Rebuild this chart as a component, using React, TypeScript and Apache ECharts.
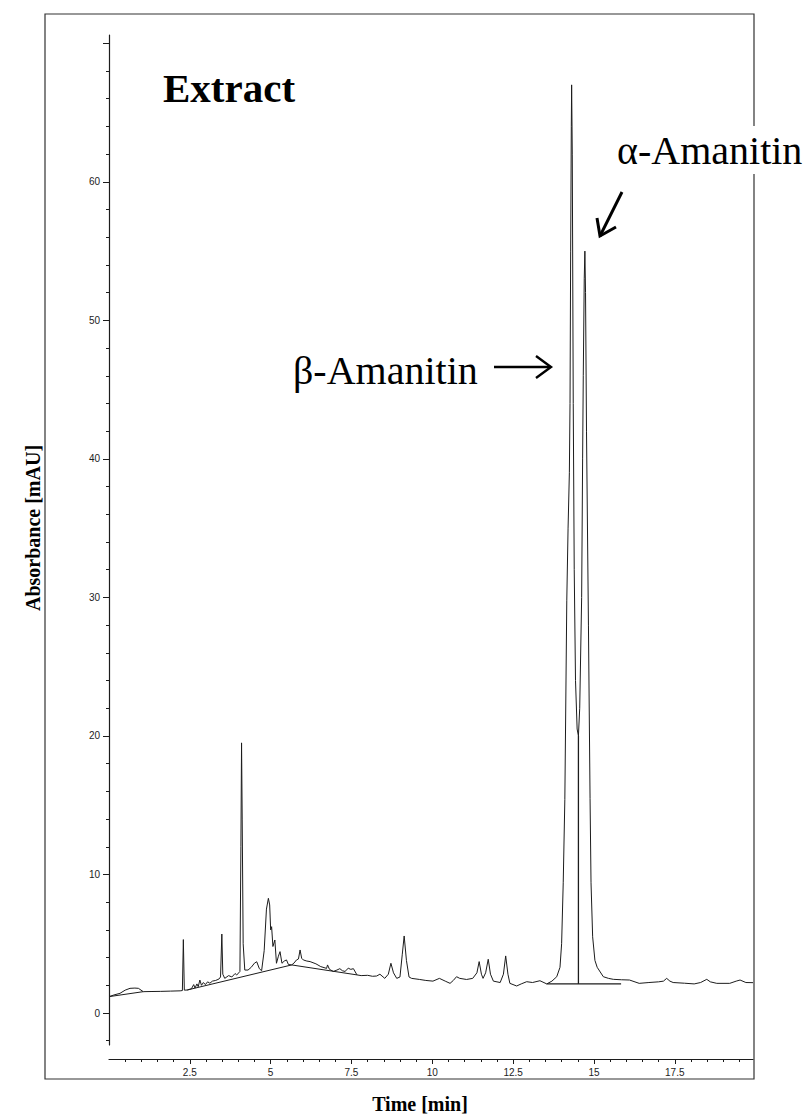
import React, { useEffect, useRef } from "react";
import * as echarts from "echarts";

// Chromatogram signal (time in min, absorbance in mAU)
const TIME = [
  0.0, 0.15, 0.34, 0.5, 0.65, 0.8, 0.91, 1.06, 1.3, 1.6, 1.9, 2.2, 2.27, 2.3, 2.33, 2.42,
  2.55, 2.62, 2.66, 2.72, 2.76, 2.81, 2.86, 2.92, 2.98, 3.05, 3.12, 3.2, 3.3, 3.4, 3.45,
  3.49, 3.52, 3.58, 3.7, 3.8, 3.9, 3.95, 4.05, 4.08, 4.1, 4.12, 4.15, 4.2, 4.3, 4.4, 4.5,
  4.57, 4.65, 4.72, 4.8, 4.87, 4.93, 4.97, 5.0, 5.03, 5.07, 5.13, 5.18, 5.24, 5.29, 5.35,
  5.42, 5.49, 5.55, 5.65, 5.72, 5.8, 5.86, 5.91, 5.96, 6.01, 6.12, 6.22, 6.4, 6.55, 6.73,
  6.76, 6.82, 6.94, 7.05, 7.14, 7.22, 7.3, 7.4, 7.48, 7.56, 7.67, 7.8, 8.0, 8.15, 8.28,
  8.38, 8.53, 8.64, 8.72, 8.8, 8.9, 9.0, 9.07, 9.13, 9.2, 9.28, 9.36, 9.61, 9.8, 10.02,
  10.22, 10.4, 10.55, 10.65, 10.75, 10.85, 11.06, 11.25, 11.38, 11.45, 11.52, 11.57,
  11.65, 11.73, 11.8, 11.89, 12.1, 12.2, 12.27, 12.34, 12.4, 12.61, 12.75, 12.92, 13.1,
  13.33, 13.54, 13.7, 13.85, 13.95, 14.0, 14.05, 14.1, 14.16, 14.2, 14.24, 14.26, 14.28,
  14.3, 14.31, 14.33, 14.36, 14.39, 14.43, 14.48, 14.52, 14.56, 14.62, 14.65, 14.67,
  14.7, 14.72, 14.74, 14.77, 14.83, 14.88, 14.91, 14.96, 15.03, 15.1, 15.29, 15.45, 15.6,
  15.85, 16.1, 16.4, 16.7, 17.0, 17.15, 17.25, 17.35, 17.45, 17.8, 18.1, 18.3, 18.49,
  18.6, 18.8, 19.2, 19.4, 19.52, 19.7, 19.92,
];
const ABSORBANCE = [
  1.18, 1.3, 1.42, 1.65, 1.78, 1.8, 1.78, 1.54, 1.55, 1.56, 1.58, 1.6, 1.62, 5.3, 1.65, 1.66,
  1.75, 2.05, 1.8, 2.1, 1.9, 2.38, 2.0, 2.2, 2.05, 2.25, 2.15, 2.3, 2.35, 2.45, 2.6,
  5.7, 2.8, 2.5, 2.7, 2.6, 2.85, 2.74, 3.0, 12.0, 19.5, 14.0, 5.0, 3.1, 3.1, 3.3, 3.6,
  3.7, 3.2, 3.05, 4.5, 7.5, 8.28, 7.8, 6.0, 6.23, 4.8, 5.27, 3.59, 4.1, 4.43, 3.59,
  3.75, 3.83, 3.5, 3.47, 3.6, 3.83, 3.9, 4.55, 3.95, 3.83, 3.75, 3.71, 3.55, 3.35, 3.22,
  3.47, 3.15, 3.0, 3.1, 3.2, 3.05, 3.0, 3.23, 3.15, 3.2, 2.75, 2.7, 2.72, 2.65, 2.67,
  2.8, 2.5, 2.8, 3.59, 2.9, 2.5, 2.6, 4.2, 5.56, 3.8, 2.6, 2.5, 2.42, 2.35, 2.3,
  2.5, 2.3, 2.14, 2.35, 2.62, 2.5, 2.42, 2.5, 2.9, 3.71, 2.8, 2.5,
  2.9, 3.88, 2.8, 2.3, 2.2, 2.8, 4.12, 2.8, 2.14, 1.95, 2.1, 2.26, 2.2,
  2.33, 2.1, 2.3, 2.62, 3.3, 5.0, 9.4, 15.4, 29.8, 35.0, 39.0, 44.0, 55.0,
  64.0, 67.0, 62.0, 44.0, 32.0, 24.0, 20.5, 20.0, 22.0, 30.0, 40.0, 46.0,
  53.0, 55.0, 52.0, 42.0, 28.0, 15.5, 9.4, 5.5, 3.8, 3.3, 2.62, 2.5, 2.43,
  2.4, 2.38, 2.14, 2.2, 2.25, 2.3, 2.5, 2.3, 2.2, 2.15, 2.1, 2.2, 2.43,
  2.25, 2.14, 2.14, 2.3, 2.38, 2.2, 2.19,
];

// Integrator baselines and the drop line between the two amanitin peaks
const BASELINE_1 = [[0.0, 1.18], [1.06, 1.54]];
const BASELINE_2 = [[2.42, 1.66], [5.65, 3.47]];
const BASELINE_3 = [[5.65, 3.47], [7.67, 2.75]];
const BASELINE_4 = [[13.54, 2.1], [15.84, 2.1]];
const DROP_LINE = [[14.52, 2.1], [14.52, 20.0]];

// Axis ticks and labels
const X_LABELS = [2.5, 5, 7.5, 10, 12.5, 15, 17.5];
const X_MINOR_TICKS = [
  0.5, 1, 1.5, 2, 2.5, 3, 3.5, 4, 4.5, 5, 5.5, 6, 6.5, 7, 7.5, 8, 8.5, 9, 9.5, 10,
  10.5, 11, 11.5, 12, 12.5, 13, 13.5, 14, 14.5, 15, 15.5, 16, 16.5, 17, 17.5, 18, 18.5,
  19, 19.5,
];
const Y_LABELS = [0, 10, 20, 30, 40, 50, 60];
const Y_MAJOR_TICKS = [0, 10, 20, 30, 40, 50, 60, 70];
const Y_MINOR_TICKS = [
  -2, 0, 2, 4, 6, 8, 10, 12, 14, 16, 18, 20, 22, 24, 26, 28, 30, 32, 34, 36, 38, 40,
  42, 44, 46, 48, 50, 52, 54, 56, 58, 60, 62, 64, 66, 68, 70,
];

const X_MIN = 0;
const X_MAX = 19.92;
const Y_MIN = -2.31;
const Y_MAX = 70.6;

const INK = "#1c1c1c";
const SERIF = '"Liberation Serif", "Times New Roman", serif';
const SANS = '"Liberation Sans", Arial, sans-serif';

export default function App() {
  const ref = useRef<HTMLDivElement>(null);

  useEffect(() => {
    if (!ref.current) return;
    const chart = echarts.init(ref.current, null, { renderer: "svg" });

    const lineSeries = (data: number[][], width: number) => ({
      type: "line",
      xAxisIndex: 0,
      yAxisIndex: 0,
      data,
      showSymbol: false,
      symbol: "none",
      silent: true,
      lineStyle: { color: INK, width },
    });

    const signal = TIME.map((t, i) => [t, ABSORBANCE[i]]);

    const option: any = {
      animation: false,
      backgroundColor: "#ffffff",
      grid: { left: 109, top: 35, width: 644, height: 1010, containLabel: false },
      xAxis: [
        {
          type: "value",
          min: X_MIN,
          max: X_MAX,
          position: "bottom",
          offset: 14,
          axisLine: { show: true, onZero: false, lineStyle: { color: INK, width: 1.2 } },
          axisTick: {
            show: true,
            customValues: X_LABELS,
            length: 5,
            lineStyle: { color: INK, width: 1 },
          },
          axisLabel: {
            show: true,
            customValues: X_LABELS,
            formatter: (v: number) => String(v),
            color: INK,
            fontSize: 10,
            fontFamily: SANS,
            margin: 8,
          },
          splitLine: { show: false },
        },
        {
          type: "value",
          min: X_MIN,
          max: X_MAX,
          position: "bottom",
          offset: 14,
          axisLine: { show: false, onZero: false },
          axisTick: {
            show: true,
            customValues: X_MINOR_TICKS,
            length: 3,
            lineStyle: { color: INK, width: 1 },
          },
          axisLabel: { show: false },
          splitLine: { show: false },
        },
      ],
      yAxis: [
        {
          type: "value",
          min: Y_MIN,
          max: Y_MAX,
          position: "left",
          axisLine: { show: true, onZero: false, lineStyle: { color: INK, width: 1.2 } },
          axisTick: {
            show: true,
            customValues: Y_MAJOR_TICKS,
            length: 6,
            lineStyle: { color: INK, width: 1 },
          },
          axisLabel: {
            show: true,
            customValues: Y_LABELS,
            formatter: (v: number) => String(v),
            color: INK,
            fontSize: 10,
            fontFamily: SANS,
            margin: 9,
          },
          splitLine: { show: false },
        },
        {
          type: "value",
          min: Y_MIN,
          max: Y_MAX,
          position: "left",
          axisLine: { show: false, onZero: false },
          axisTick: {
            show: true,
            customValues: Y_MINOR_TICKS,
            length: 3,
            lineStyle: { color: INK, width: 1 },
          },
          axisLabel: { show: false },
          splitLine: { show: false },
        },
      ],
      series: [
        lineSeries(signal, 1),
        lineSeries(BASELINE_1, 1),
        lineSeries(BASELINE_2, 1),
        lineSeries(BASELINE_3, 1),
        lineSeries(BASELINE_4, 1.3),
        lineSeries(DROP_LINE, 1.3),
      ],
      graphic: [
        {
          type: "rect",
          silent: true,
          z: 0,
          shape: { x: 45, y: 14, width: 709, height: 1065 },
          style: { fill: "none", stroke: "#333", lineWidth: 1.2 },
        },
        {
          type: "text",
          z: 10,
          x: 163,
          y: 88,
          style: {
            text: "Extract",
            fill: "#000",
            fontFamily: SERIF,
            fontWeight: "bold",
            fontSize: 41,
            verticalAlign: "middle",
            textAlign: "left",
          },
        },
        {
          type: "text",
          z: 10,
          x: 617,
          y: 150,
          style: {
            text: "α-Amanitin",
            fill: "#000",
            fontFamily: SERIF,
            fontSize: 40,
            verticalAlign: "middle",
            textAlign: "left",
            backgroundColor: "#ffffff",
            padding: [4, 0, 4, 0],
          },
        },
        {
          type: "text",
          z: 10,
          x: 293,
          y: 370,
          style: {
            text: "β-Amanitin",
            fill: "#000",
            fontFamily: SERIF,
            fontSize: 40,
            verticalAlign: "middle",
            textAlign: "left",
          },
        },
        {
          type: "line",
          z: 10,
          silent: true,
          shape: { x1: 494, y1: 367, x2: 550, y2: 367 },
          style: { stroke: "#000", lineWidth: 2.4 },
        },
        {
          type: "polyline",
          z: 10,
          silent: true,
          shape: { points: [[536, 356], [551, 367], [536, 378]] },
          style: { stroke: "#000", lineWidth: 2.4, fill: "none" },
        },
        {
          type: "line",
          z: 10,
          silent: true,
          shape: { x1: 622, y1: 192, x2: 600, y2: 236 },
          style: { stroke: "#000", lineWidth: 3 },
        },
        {
          type: "polyline",
          z: 10,
          silent: true,
          shape: { points: [[597, 218], [600, 236], [616, 227]] },
          style: { stroke: "#000", lineWidth: 3, fill: "none" },
        },
        {
          type: "text",
          z: 10,
          x: 33,
          y: 528,
          rotation: Math.PI / 2,
          style: {
            text: "Absorbance [mAU]",
            fill: "#000",
            fontFamily: SERIF,
            fontWeight: "bold",
            fontSize: 20,
            textAlign: "center",
            verticalAlign: "middle",
          },
        },
        {
          type: "text",
          z: 10,
          x: 420,
          y: 1104,
          style: {
            text: "Time [min]",
            fill: "#000",
            fontFamily: SERIF,
            fontWeight: "bold",
            fontSize: 20,
            textAlign: "center",
            verticalAlign: "middle",
          },
        },
      ],
    };

    chart.setOption(option);
    return () => {
      chart.dispose();
    };
  }, []);

  return (
    <div
      ref={ref}
      style={{ position: "absolute", left: 0, top: 0, width: 812, height: 1118, background: "#fff" }}
    />
  );
}
